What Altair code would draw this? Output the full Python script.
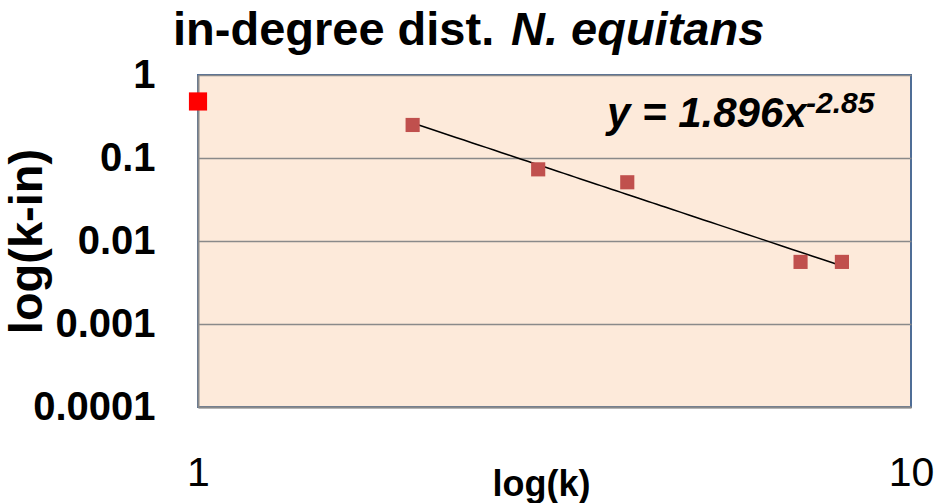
import altair as alt
import pandas as pd

# data
k_vals = [1, 2, 3, 4, 7, 8]
p_vals = [0.48, 0.25, 0.073, 0.051, 0.0056, 0.0056]
is_first = [True, False, False, False, False, False]

y_ticks = [1, 0.1, 0.01, 0.001, 0.0001]
x_ticks = [1, 10]

title_main = "in-degree dist."
title_species = "N. equitans"
eq_main = "y = 1.896x"
eq_exp = "-2.85"

df = pd.DataFrame({"k": k_vals, "p": p_vals, "first": is_first})

FONT = "Liberation Sans"
W, H = 713, 332

xscale = alt.Scale(type="log", domain=[1, 10])
yscale = alt.Scale(type="log", domain=[0.0001, 1])

xaxis = alt.Axis(
    values=x_ticks, format="~g", grid=False, ticks=False, domain=True,
    domainColor="#8a8a8a", domainWidth=2,
    labelFont=FONT, labelFontSize=41, labelFontWeight="normal", labelColor="black",
    labelBaseline="alphabetic", labelPadding=78, labelFlush=False, labelOverlap=False,
    title="log(k)", titleFont=FONT, titleFontSize=36, titleFontWeight="bold",
    titleColor="black", titleX=343, titleY=88, titleBaseline="alphabetic",
    titleAnchor="middle", titleAlign="center",
)
yaxis = alt.Axis(
    values=y_ticks, format="~g", grid=True, gridColor="#8a8a8a", gridWidth=1.5,
    ticks=False, domain=True, domainColor="#8a8a8a", domainWidth=2,
    labelFont=FONT, labelFontSize=40, labelFontWeight="bold", labelColor="black",
    labelPadding=43, labelFlush=False, labelOverlap=False,
    title="log(k-in)", titleFont=FONT, titleFontSize=47, titleFontWeight="bold",
    titleColor="black", titleX=-171, titleY=166, titleAngle=270,
    titleBaseline="middle", titleAlign="center",
)

base = alt.Chart(df)

rest = base.transform_filter("!datum.first")

trend = rest.transform_regression("k", "p", method="pow").mark_line(
    color="black", strokeWidth=1.5
).encode(
    x=alt.X("k:Q", scale=xscale, axis=xaxis),
    y=alt.Y("p:Q", scale=yscale, axis=yaxis),
)

pts = rest.mark_point(shape="square", filled=True, size=200, opacity=1,
                      color="#C0504D").encode(
    x=alt.X("k:Q", scale=xscale),
    y=alt.Y("p:Q", scale=yscale),
)

first_pt = base.transform_filter("datum.first").mark_point(
    shape="square", filled=True, size=330, opacity=1, color="#FF0000"
).encode(
    x=alt.X("k:Q", scale=xscale),
    y=alt.Y("p:Q", scale=yscale),
)

def label(text, x, y, size, style="normal", weight="bold"):
    return alt.Chart(pd.DataFrame({"t": [text]})).mark_text(
        font=FONT, fontSize=size, fontWeight=weight, fontStyle=style,
        align="left", baseline="alphabetic", color="black", clip=False,
    ).encode(x=alt.value(x), y=alt.value(y), text="t:N")

t1 = label(title_main, -25, -30, 47)
t2 = label(title_species, 313, -30, 47, style="italic")
e1 = label(eq_main, 409, 52, 42, style="italic")
e2 = label(eq_exp, 608, 38, 30, style="italic")

chart = alt.layer(trend, pts, first_pt, t1, t2, e1, e2).properties(
    width=W, height=H,
    autosize=alt.AutoSizeParams(type="none"),
    padding={"left": 198, "top": 75, "right": 25, "bottom": 96},
    background="white",
).configure_view(
    fill="#FDEADA", stroke="#4F6D96", strokeWidth=2
)

chart.save("out.html", embed_options={"renderer": "svg", "actions": False})
